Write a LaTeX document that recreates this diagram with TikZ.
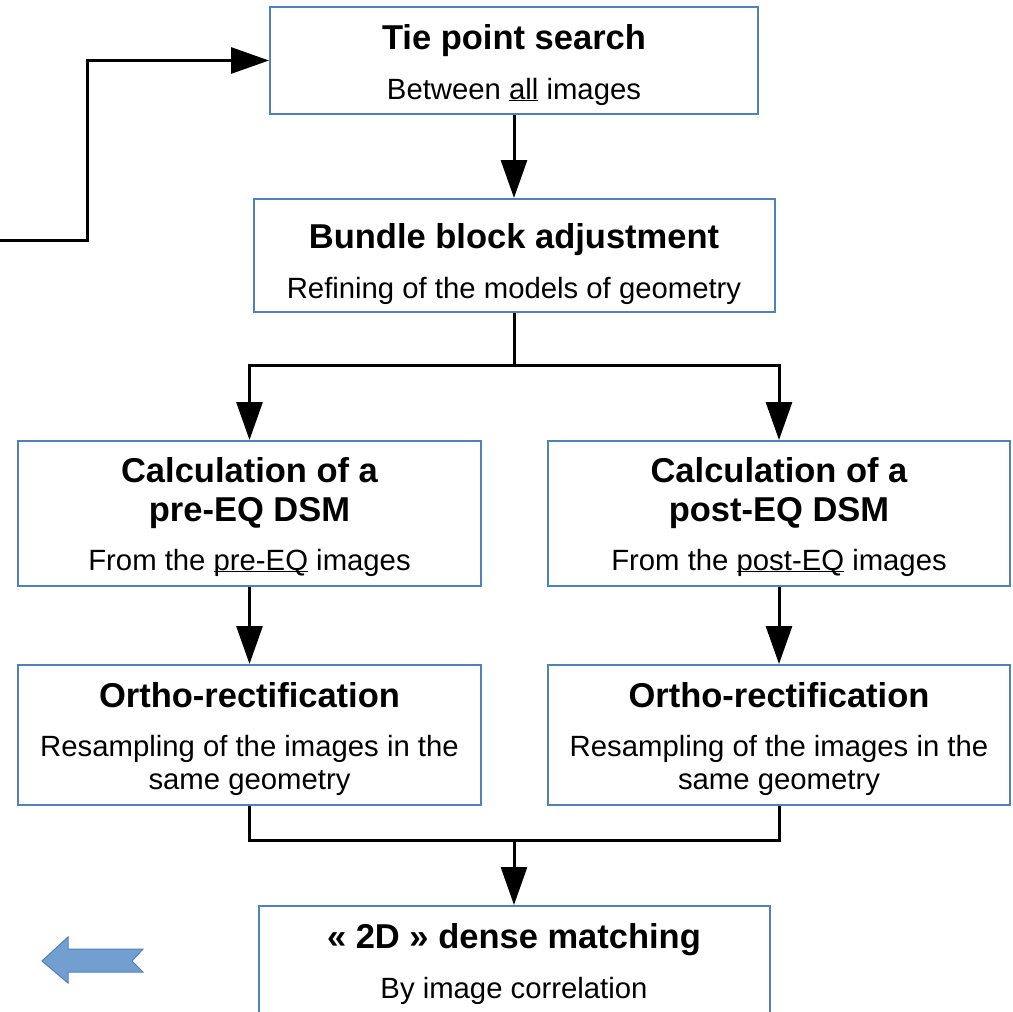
\documentclass[tikz,border=0pt]{standalone}
\usepackage{fontspec}
\setmainfont{Liberation Sans}
\usetikzlibrary{arrows.meta}

\definecolor{boxblue}{RGB}{79,129,189}
\definecolor{arrowfill}{RGB}{114,159,207}

\tikzset{
  box/.style={draw=boxblue, line width=2pt, rectangle, inner sep=0pt},
  ttl/.style={anchor=base, align=center, font=\fontsize{34.5}{39}\selectfont\bfseries},
  sub/.style={anchor=base, align=center, font=\fontsize{29.3}{33}\selectfont},
  line/.style={line width=3pt, black},
  link/.style={line, -{Triangle[length=38pt,width=26pt]}}
}

\newcommand\ulword[1]{\underline{\smash{#1}}}

\begin{document}
\begin{tikzpicture}[x=1pt, y=-1pt]
\clip (0,0) rectangle (1013,1012);
\fill[white] (0,0) rectangle (1013,1012);

\def\mx{514}
\def\lx{249.5}
\def\rx{779}

% boxes
\node[box, minimum width=488pt, minimum height=107pt] (tie) at (\mx,60.5) {};
\node[box, minimum width=521pt, minimum height=113pt] (bundle) at (\mx,255.5) {};
\node[box, minimum width=463pt, minimum height=145pt] (calcL) at (\lx,513.5) {};
\node[box, minimum width=462pt, minimum height=145pt] (calcR) at (\rx,513.5) {};
\node[box, minimum width=463pt, minimum height=140pt] (orthoL) at (\lx,735) {};
\node[box, minimum width=462pt, minimum height=140pt] (orthoR) at (\rx,735) {};
\node[box, minimum width=511pt, minimum height=140pt] (dense) at (\mx,976) {};

% texts (multi-line ones sit on their last baseline)
\node[ttl] (tieT) at (\mx,49) {Tie point search};
\node[sub] (tieS) at (\mx,99) {Between \ulword{all} images};
\node[ttl] (bundleT) at (\mx,248) {Bundle block adjustment};
\node[sub] (bundleS) at (\mx,298) {Refining of the models of geometry};
\node[ttl] (calcLT) at (\lx,521) {Calculation of a\\pre-EQ DSM};
\node[sub] (calcLS) at (\lx,570) {From the \ulword{pre-EQ} images};
\node[ttl] (calcRT) at (\rx,521) {Calculation of a\\post-EQ DSM};
\node[sub] (calcRS) at (\rx,570) {From the \ulword{post-EQ} images};
\node[ttl] (orthoLT) at (\lx,707) {Ortho-rectification};
\node[sub] (orthoLS) at (\lx,789) {Resampling of the images in the\\same geometry};
\node[ttl] (orthoRT) at (\rx,707) {Ortho-rectification};
\node[sub] (orthoRS) at (\rx,789) {Resampling of the images in the\\same geometry};
\node[ttl] (denseT) at (\mx,948) {«~2D~» dense matching};
\node[sub] (denseS) at (\mx,998) {By image correlation};

% connectors
\coordinate (feed) at (0,240);
\coordinate (bend) at (87,240);
\coordinate (split) at (\mx,365);
\coordinate (merge) at (\mx,840);

\draw[link] (feed) -- (bend) |- (tie);
\draw[link] (tie) -- (bundle);
\draw[line] (bundle) -- (split);
\draw[link] (split) -| (calcL);
\draw[link] (split) -| (calcR);
\draw[link] (calcL) -- (orthoL);
\draw[link] (calcR) -- (orthoR);
\draw[line] (orthoL) |- (merge);
\draw[line] (orthoR) |- (merge);
\draw[link] (merge) -- (dense);

% back arrow
\draw[fill=arrowfill, draw=boxblue, line width=1pt, line join=miter]
  (42,961) -- (68,937) -- (68,949) -- (143,949) -- (132,961)
  -- (143,972) -- (68,972) -- (68,983) -- cycle;
\end{tikzpicture}
\end{document}
